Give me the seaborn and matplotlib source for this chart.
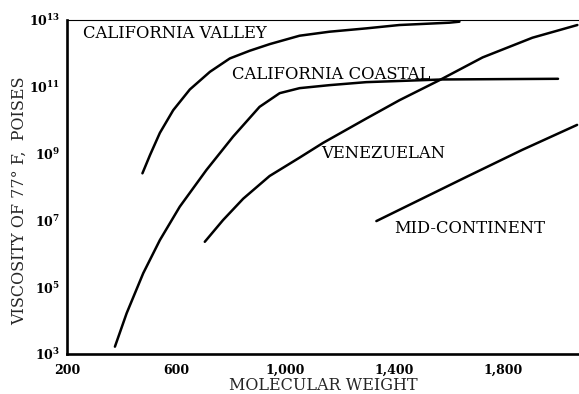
import numpy as np
import pandas as pd
import matplotlib
matplotlib.use("Agg")
import matplotlib.pyplot as plt
import seaborn as sns

# values: molecular weight vs log10(viscosity, poises)
valley_mw = [477, 505, 541, 590, 651, 725, 798, 871, 945, 1054, 1164, 1299, 1420, 1604, 1641]
valley_logv = [8.41, 8.96, 9.62, 10.30, 10.92, 11.45, 11.85, 12.08, 12.28, 12.53, 12.65, 12.75, 12.85, 12.92, 12.95]

coastal_mw = [376, 419, 480, 541, 614, 712, 810, 907, 981, 1054, 1164, 1299, 1578, 2003]
coastal_logv = [3.22, 4.22, 5.42, 6.41, 7.41, 8.51, 9.51, 10.40, 10.81, 10.96, 11.05, 11.14, 11.22, 11.24]

venez_mw = [706, 773, 847, 944, 1054, 1140, 1299, 1421, 1568, 1726, 1909, 2074]
venez_logv = [6.36, 7.01, 7.65, 8.33, 8.88, 9.32, 10.05, 10.60, 11.20, 11.88, 12.47, 12.85]

midcon_mw = [1336, 1666, 1871, 2073]
midcon_logv = [6.98, 8.30, 9.11, 9.86]

curve_names = ["CALIFORNIA VALLEY", "CALIFORNIA COASTAL", "VENEZUELAN", "MID-CONTINENT"]
label_mw = [259, 805, 1135, 1402]
label_logv = [12.61, 11.38, 8.99, 6.77]

x_ticks = [200, 400, 600, 800, 1000, 1200, 1400, 1600, 1800, 2000]
x_ticklabels = ["200", "", "600", "", "1,000", "", "1,400", "", "1,800", ""]
y_exps = list(range(3, 14))
y_ticklabels = [f"$\\mathbf{{10^{{{e}}}}}$" if e % 2 == 1 else "" for e in y_exps]

sns.set_theme(style="white")
plt.rcParams["font.family"] = ["DejaVu Serif", "DejaVu Sans"]
plt.rcParams["mathtext.fontset"] = "dejavuserif"

fig = plt.figure(figsize=(5.79, 3.94), dpi=100)
ax = fig.add_axes([0.1157, 0.1015, 0.8843, 0.8477])

curves = [(valley_mw, valley_logv), (coastal_mw, coastal_logv),
          (venez_mw, venez_logv), (midcon_mw, midcon_logv)]
for mw, logv in curves:
    sns.lineplot(x=mw, y=10 ** np.array(logv), ax=ax, color="black",
                 linewidth=1.8, sort=False, estimator=None)

for name, lx, ly in zip(curve_names, label_mw, label_logv):
    ax.text(lx, 10 ** ly, name, fontsize=11.8, va="center", ha="left", color="black")

ax.set_yscale("log")
ax.set_xlim(200, 2080)
ax.set_ylim(1e3, 1e13)
ax.set_xticks(x_ticks)
ax.set_xticklabels(x_ticklabels, fontsize=9, fontweight="bold")
ax.set_yticks([10.0 ** e for e in y_exps])
ax.set_yticklabels(y_ticklabels, fontsize=9)
ax.yaxis.set_minor_locator(matplotlib.ticker.NullLocator())

ax.tick_params(axis="y", direction="in", length=10, width=1.3, pad=5, colors="black")
ax.tick_params(axis="x", direction="in", length=7, width=0.9, pad=7, colors="black")

for side in ["left", "bottom"]:
    ax.spines[side].set_linewidth(1.9)
    ax.spines[side].set_color("black")
ax.spines["top"].set_linewidth(0.8)
ax.spines["top"].set_color("black")
ax.spines["right"].set_visible(False)

ax.set_xlabel("MOLECULAR WEIGHT", fontsize=11.5, labelpad=0)
ax.set_ylabel("VISCOSITY OF 77° F,  POISES", fontsize=11.5)
ax.yaxis.set_label_coords(-0.076, 0.46)

fig.savefig("out.png", dpi=100)
